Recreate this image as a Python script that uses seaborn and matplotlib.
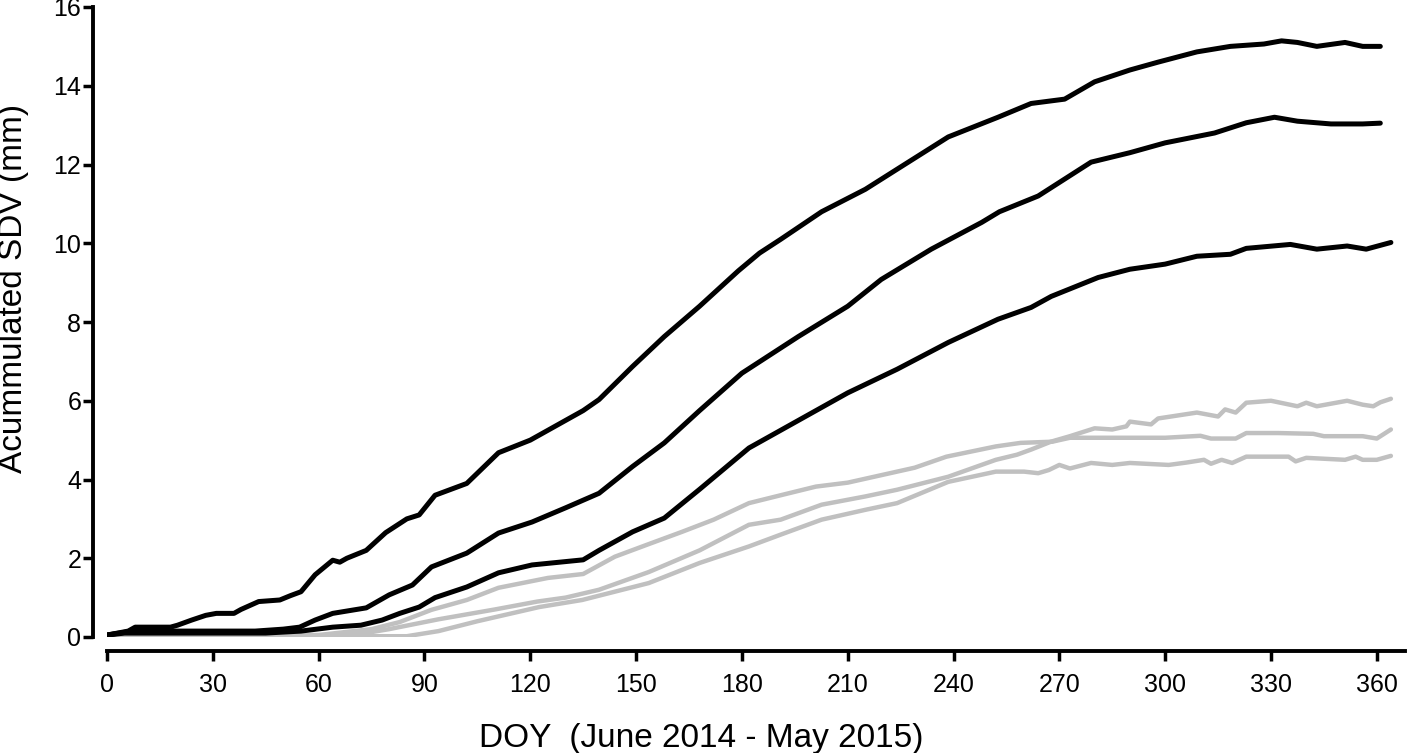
import numpy as np
import pandas as pd
import matplotlib
matplotlib.use("Agg")
import matplotlib.pyplot as plt
import seaborn as sns

# black series (three upper curves)
days_b1 = [0, 3, 6, 8, 18, 20, 24, 28, 31, 36, 38, 43, 49, 52, 55, 59, 64, 66, 68, 73.5, 79, 85, 88.5,
           93, 102, 111, 120, 125, 130, 135, 139.5, 149, 158, 168, 179, 185, 191, 202.6, 215, 224,
           238.5, 252.6, 262, 271.5, 280, 290, 298, 309, 318.5, 328, 333, 337.5, 343, 351, 356, 361]
vals_b1 = [0.05, 0.1, 0.15, 0.25, 0.25, 0.3, 0.43, 0.55, 0.6, 0.6, 0.7, 0.9, 0.94, 1.05, 1.15, 1.58,
           1.95, 1.9, 2.0, 2.2, 2.65, 3.0, 3.1, 3.6, 3.9, 4.68, 5.0, 5.25, 5.5, 5.75, 6.03, 6.87, 7.63,
           8.4, 9.3, 9.75, 10.1, 10.8, 11.37, 11.88, 12.7, 13.2, 13.55, 13.66, 14.1, 14.4, 14.6, 14.86,
           15.0, 15.06, 15.14, 15.1, 15.0, 15.1, 15.0, 15.0]

days_b2 = [0, 5, 8, 42, 50, 54.6, 59, 64, 73.5, 80, 86.6, 92, 102, 111, 120.5, 130, 139.5, 149, 158,
           168, 180, 196, 210, 219.5, 233.7, 248, 253, 264, 279, 290, 300, 314, 323, 331, 337.5, 347,
           356, 361]
vals_b2 = [0.05, 0.12, 0.15, 0.15, 0.2, 0.25, 0.43, 0.6, 0.74, 1.07, 1.32, 1.78, 2.13, 2.64, 2.92,
           3.28, 3.65, 4.33, 4.93, 5.75, 6.7, 7.63, 8.4, 9.08, 9.85, 10.53, 10.8, 11.2, 12.06, 12.3,
           12.55, 12.8, 13.06, 13.2, 13.1, 13.03, 13.03, 13.05]

days_b3 = [0, 5, 45, 55, 64, 72, 78, 83, 88.5, 93, 102, 111, 120.5, 135, 139.5, 149, 158, 168, 182,
           196, 210, 224, 238.5, 252.6, 262, 267.7, 281, 290, 300, 309, 318.5, 323, 335.5, 343, 351.6,
           357, 364]
vals_b3 = [0.05, 0.1, 0.1, 0.15, 0.25, 0.3, 0.43, 0.6, 0.76, 1.0, 1.27, 1.63, 1.83, 1.96, 2.2, 2.67,
           3.02, 3.75, 4.8, 5.5, 6.2, 6.8, 7.48, 8.07, 8.37, 8.65, 9.13, 9.34, 9.47, 9.67, 9.72, 9.87,
           9.97, 9.85, 9.93, 9.85, 10.02]

# grey series (three lower curves)
days_g1 = [0, 70, 80, 94, 110, 122, 130, 139.5, 153.6, 168, 182, 191, 202.6, 215, 224, 238.5, 252,
           258, 262, 267.6, 273, 280, 285, 289, 290, 296, 298, 309, 315, 317, 320, 323, 330, 337.5,
           340, 343, 351.6, 356, 359, 361, 364]
vals_g1 = [0.03, 0.05, 0.2, 0.45, 0.7, 0.9, 1.0, 1.2, 1.65, 2.2, 2.85, 2.98, 3.36, 3.57, 3.74, 4.07,
           4.5, 4.63, 4.76, 4.96, 5.1, 5.3, 5.27, 5.35, 5.47, 5.4, 5.55, 5.7, 5.6, 5.78, 5.7, 5.95,
           6.0, 5.86, 5.95, 5.86, 6.0, 5.9, 5.86, 5.96, 6.05]

days_g2 = [0, 60, 65, 75, 83, 92, 102, 111, 125, 135, 144, 153, 163, 172, 182, 191, 201, 210, 220,
           229, 238, 252, 259, 268, 273, 300, 310, 313, 320, 323, 332, 342, 345, 356, 360, 364]
vals_g2 = [0.03, 0.05, 0.1, 0.2, 0.38, 0.69, 0.94, 1.25, 1.5, 1.6, 2.04, 2.34, 2.67, 2.98, 3.4, 3.6,
           3.82, 3.92, 4.12, 4.3, 4.58, 4.84, 4.93, 4.96, 5.06, 5.06, 5.11, 5.04, 5.04, 5.18, 5.18,
           5.16, 5.1, 5.1, 5.04, 5.27]

days_g3 = [0, 85, 94, 105, 122.5, 134.7, 153.6, 168, 182, 191, 202.6, 215, 224, 238.5, 252, 260, 264,
           267, 270, 273, 279, 285, 290, 301, 306, 311, 313, 316, 319, 323, 335, 337, 340, 351, 354,
           356, 360, 364]
vals_g3 = [0.02, 0.02, 0.15, 0.4, 0.76, 0.94, 1.37, 1.88, 2.3, 2.6, 2.98, 3.23, 3.4, 3.94, 4.2, 4.2,
           4.16, 4.24, 4.37, 4.28, 4.42, 4.37, 4.42, 4.37, 4.43, 4.5, 4.4, 4.5, 4.42, 4.58, 4.58,
           4.46, 4.55, 4.5, 4.58, 4.5, 4.5, 4.6]

x_ticks = list(range(0, 361, 30))
y_ticks = list(range(0, 17, 2))


def main():
    sns.set_style("ticks")
    plt.rcParams['font.family'] = ['Liberation Sans', 'DejaVu Sans']

    fig = plt.figure(figsize=(14.19, 7.53), dpi=100)
    ax = fig.add_axes([107 / 1419, 116 / 753, 1298 / 1419, 630 / 753])

    grey = '#c0c0c0'
    for d, v in [(days_g1, vals_g1), (days_g2, vals_g2), (days_g3, vals_g3)]:
        sns.lineplot(x=d, y=v, color=grey, linewidth=3.2, ax=ax, sort=False)
    for d, v in [(days_b1, vals_b1), (days_b2, vals_b2), (days_b3, vals_b3)]:
        sns.lineplot(x=d, y=v, color='black', linewidth=3.6, ax=ax, sort=False)

    ax.set_xlim(0, 368)
    ax.set_ylim(0, 16)
    ax.set_xticks(x_ticks)
    ax.set_yticks(y_ticks)
    ax.tick_params(axis='both', labelsize=18, width=2.5, length=7, color='black',
                   labelcolor='black')
    ax.tick_params(axis='x', pad=9)
    ax.tick_params(axis='y', pad=1.5)

    sns.despine(ax=ax, offset=10)
    for side in ['left', 'bottom']:
        ax.spines[side].set_linewidth(2.8)
        ax.spines[side].set_color('black')

    ax.set_xlabel('')
    ax.set_ylabel('')
    fig.text(701 / 1419, 1 - 738 / 753, 'DOY  (June 2014 - May 2015)', fontsize=24,
             ha='center', va='center', color='black')
    fig.text(14 / 1419, 1 - 288 / 753, 'Acummulated SDV (mm)', fontsize=24, rotation=90,
             ha='center', va='center', color='black')

    fig.savefig('out.png', dpi=100)


if __name__ == "__main__":
    main()
